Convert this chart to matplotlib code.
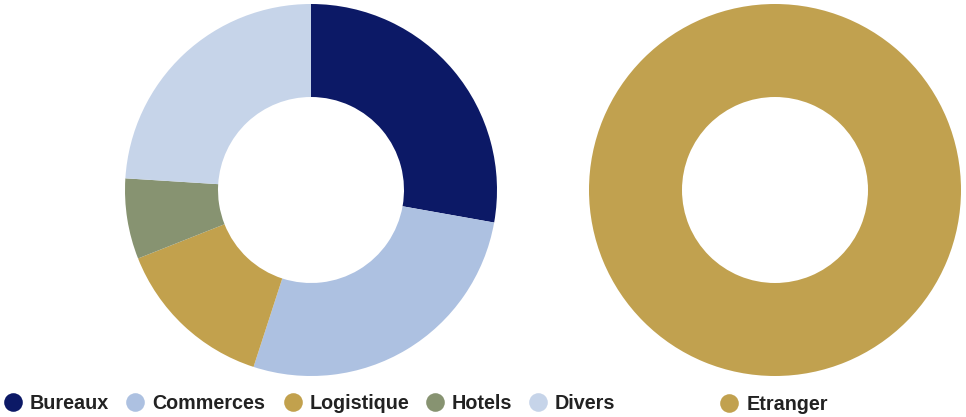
import matplotlib
matplotlib.use("Agg")
import matplotlib.pyplot as plt

# Data
categories_left = ["Bureaux", "Commerces", "Logistique", "Hotels", "Divers"]
values_left = [27.8, 27.2, 14.0, 7.0, 24.0]
colors_left = ["#0c1966", "#adc1e1", "#c2a14d", "#879371", "#c6d4e9"]

categories_right = ["Etranger"]
values_right = [100.0]
colors_right = ["#c1a14f"]

W, H = 966, 417
fig = plt.figure(figsize=(W / 100, H / 100), dpi=100)
fig.patch.set_facecolor("white")

def donut(cx, cy, r, values, colors):
    ax = fig.add_axes([(cx - r) / W, (H - cy - r) / H, 2 * r / W, 2 * r / H])
    ax.pie(values, colors=colors, startangle=90, counterclock=False, radius=1.0,
           wedgeprops=dict(width=0.5, linewidth=0, edgecolor="none"))
    ax.set_xlim(-1, 1)
    ax.set_ylim(-1, 1)
    ax.set_aspect("equal")
    ax.axis("off")
    return ax

donut(311, 190, 186, values_left, colors_left)
donut(775, 190, 186, values_right, colors_right)

# Legend (manual, in pixel coords)
lax = fig.add_axes([0, 0, 1, 1])
lax.set_xlim(0, W)
lax.set_ylim(H, 0)
lax.axis("off")

legend_y = 402
left_marker_x = [13, 135, 293, 435, 538]
for x, lab, col in zip(left_marker_x, categories_left, colors_left):
    lax.scatter([x], [legend_y], s=180, color=col, marker="o", linewidths=0)
    lax.text(x + 17, legend_y + 1.5, lab, ha="left", va="center", fontsize=14.2,
             fontweight="bold", color="#222222", family="Liberation Sans")

for x, lab, col in zip([729], categories_right, colors_right):
    lax.scatter([x], [legend_y + 1], s=180, color=col, marker="o", linewidths=0)
    lax.text(x + 18, legend_y + 2.5, lab, ha="left", va="center", fontsize=14.2,
             fontweight="bold", color="#222222", family="Liberation Sans")

fig.savefig("out.png", dpi=100, facecolor="white")
